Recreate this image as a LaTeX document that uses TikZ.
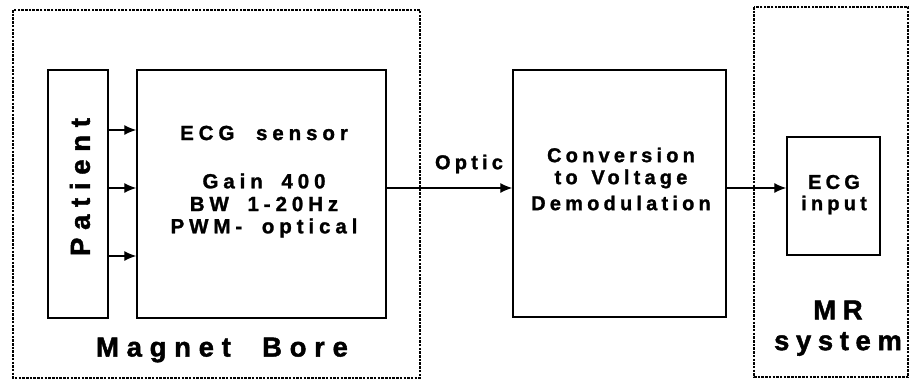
\documentclass[tikz,border=0pt]{standalone}
\usepackage{fontspec}
\setmainfont{Liberation Sans}
\newfontfamily\lbl[LetterSpace=21,FakeBold=1.3]{Liberation Sans Bold}
\newfontfamily\sensorlbl[LetterSpace=24,FakeBold=1.3]{Liberation Sans Bold}
\newfontfamily\biglbl[LetterSpace=28,FakeBold=1.6]{Liberation Sans Bold}
\newfontfamily\mrlbl[LetterSpace=24,FakeBold=1.6]{Liberation Sans Bold}
\usetikzlibrary{arrows.meta}
\tikzset{
  solidbox/.style={draw, line width=1.4pt, minimum width=#1, inner sep=0pt},
  groupbox/.style={draw, line width=1.3pt, dash pattern=on 2.5pt off 1.2pt},
  txt/.style={font=\lbl\fontsize{20}{24}\selectfont, inner sep=0pt, align=center},
  stxt/.style={font=\sensorlbl\fontsize{20.5}{24}\selectfont, inner sep=0pt, align=center},
  bigtxt/.style={font=\biglbl\fontsize{27.5}{32}\selectfont, inner sep=0pt, align=center},
  mrtxt/.style={font=\mrlbl\fontsize{27.5}{32}\selectfont, inner sep=0pt, align=center},
  conn/.style={line width=1.3pt, -{Latex[length=12pt,width=10pt]}},
}
\begin{document}
\begin{tikzpicture}[x=1pt,y=-1pt]
\useasboundingbox (0,0) rectangle (916,380);
% group boxes
\draw[groupbox] (13,10) rectangle (420,378);
\draw[groupbox] (754,7) rectangle (908,377);
% blocks
\node[solidbox=60pt, minimum height=248pt] (patient) at (78,194) {};
\node[solidbox=249pt, minimum height=248pt] (sensor) at (261.5,194) {};
\node[solidbox=213pt, minimum height=247pt] (conv) at (619.5,193.5) {};
\node[solidbox=93pt, minimum height=118pt] (ecgin) at (833.5,196) {};
% texts
\node[bigtxt, rotate=90] (ptxt) at (80,187) {Patient};
\node[stxt] (s1) at (264,133) {ECG\hspace{11pt} sensor};
\node[stxt] (s2) at (264,181) {Gain\hspace{8pt} 400};
\node[stxt] (s3) at (264,204) {BW\hspace{8pt} 1-20Hz};
\node[stxt] (s4) at (264,228) {PWM-\hspace{9pt} optical};
\node[txt] (c1) at (621,155) {Conversion};
\node[txt] (c2) at (621,179) {to\hspace{4pt} Voltage};
\node[txt] (c3) at (621,203) {Demodulation};
\node[txt] (e1) at (834,182) {ECG};
\node[txt] (e2) at (834,205) {input};
\node[txt] (optic) at (469,164) {Optic};
\node[bigtxt] (mb) at (222,350) {Magnet\hspace{16pt} Bore};
\node[mrtxt] (mr1) at (838,310) {MR};
\node[mrtxt] (mr2) at (838,344) {system};
% connectors
\draw[conn] (patient.east |- 0,130) -- (sensor.west |- 0,130);
\draw[conn] (patient.east |- 0,188) -- (sensor.west |- 0,188);
\draw[conn] (patient.east |- 0,256) -- (sensor.west |- 0,256);
\draw[conn] (sensor.east |- 0,188) -- (conv.west |- 0,188);
\draw[conn] (conv.east |- 0,188) -- (ecgin.west |- 0,188);
\end{tikzpicture}
\end{document}
